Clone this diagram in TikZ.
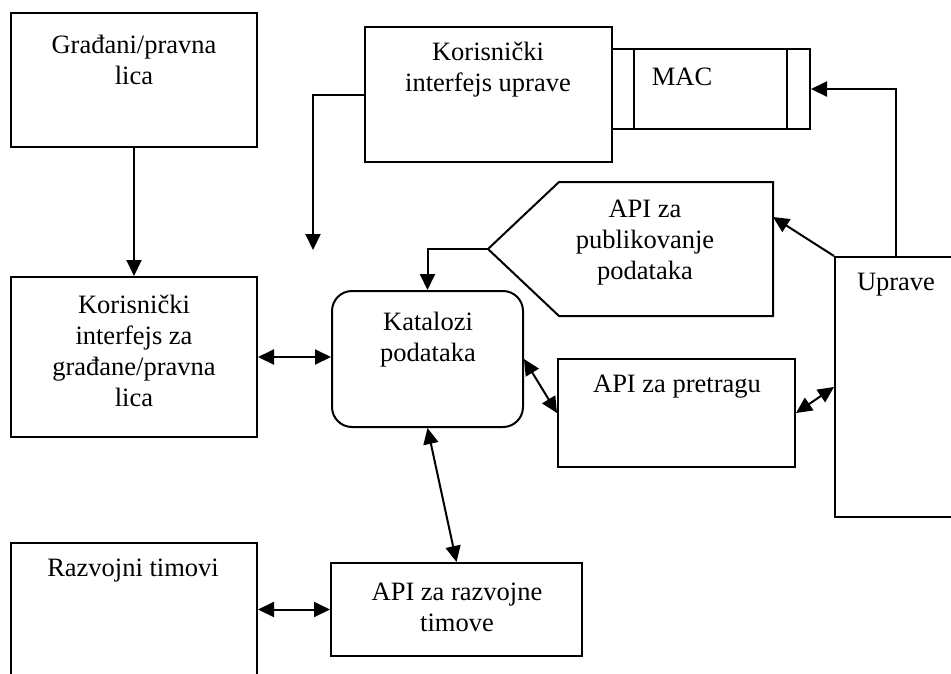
\documentclass[tikz,border=0pt]{standalone}
\usepackage{fontspec}
\setmainfont{Liberation Serif}
\usetikzlibrary{arrows.meta}

\begin{document}
\begin{tikzpicture}[x=1pt,y=-1pt,line width=2pt,
  box/.style={draw, rectangle, inner sep=0pt},
  txt/.style={align=center, inner sep=0pt, font=\fontsize{26.5}{31}\selectfont},
  arr/.style={-{Triangle[length=16pt,width=15pt]}},
  dbl/.style={{Triangle[length=16pt,width=15pt]}-{Triangle[length=16pt,width=15pt]}}]
\useasboundingbox (0,0) rectangle (951,673);

\node[box, minimum width=246, minimum height=134] (gradjani) at (134,80) {};
\node[txt] (gradjanitxt) at (134,60) {Građani/pravna\\lica};
\node[box, minimum width=246, minimum height=160] (kig) at (134,357) {};
\node[txt] (kigtxt) at (134,351) {Korisnički\\interfejs za\\građane/pravna\\lica};
\node[box, minimum width=247, minimum height=135] (kiu) at (488.5,94.5) {};
\node[txt] (kiutxt) at (488,70) {Korisnički\\interfejs uprave};
\node[box, minimum width=198, minimum height=80] (mac) at (711,89) {};
\draw ([xshift=23]mac.north west) -- ([xshift=23]mac.south west) ([xshift=-24]mac.north east) -- ([xshift=-24]mac.south east);
\node[txt] (mactxt) at (682,77) {MAC};
\node[box, rounded corners=20pt, minimum width=191, minimum height=136] (katalozi) at (427.5,359) {};
\node[txt] (katalozitxt) at (428,340) {Katalozi\\podataka};
\node[inner sep=0pt, minimum width=283, minimum height=132] (pub) at (630.5,249) {};
\draw ([xshift=71]pub.north west) -- (pub.north east) -- (pub.south east) -- ([xshift=71]pub.south west) -- (pub.west) -- cycle;
\node[txt] (pubtxt) at (645,243) {API za\\publikovanje\\podataka};
\node[box, minimum width=237, minimum height=108] (pretraga) at (676.5,413) {};
\node[txt] (pretragatxt) at (677,387) {API za pretragu};
\node[box, minimum width=122, minimum height=260] (uprave) at (896,387) {};
\node[txt] (upravetxt) at (896,285) {Uprave};
\node[box, minimum width=251, minimum height=93] (apirazv) at (456.5,609.5) {};
\node[txt] (apirazvtxt) at (457,607.5) {API za razvojne\\timove};
\node[box, minimum width=246, minimum height=174] (razvojni) at (134,630) {};
\node[txt] (razvojnitxt) at (133,571) {Razvojni timovi};

\coordinate (kiuend) at (313,250);
\draw[arr] (gradjani.south) -- (kig.north);
\draw[dbl] (kig.east) -- (kig.east -| katalozi.west);
\draw[arr] (kiu.west) -| (kiuend);
\draw[arr] (uprave.north) |- (mac.east);
\draw[arr] (uprave.north west) -- ([yshift=32]pub.east);
\draw[arr] (pub.west) -| (katalozi.north);
\draw[dbl] (katalozi.east) -- (pretraga.west);
\draw[dbl] (pretraga.east) -- (uprave.west);
\draw[dbl] (katalozi.south) -- (apirazv.north);
\draw[dbl] (apirazv.west -| razvojni.east) -- (apirazv.west);
\end{tikzpicture}
\end{document}
